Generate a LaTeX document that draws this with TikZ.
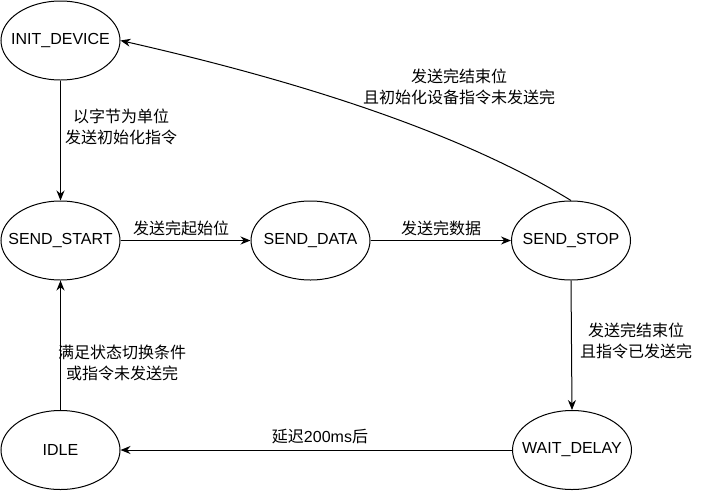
\documentclass[tikz,border=0pt]{standalone}
\usepackage{fontspec}
\setmainfont{Liberation Sans}
\newfontfamily\cjk{Noto Sans CJK SC}
\usetikzlibrary{arrows.meta,shapes.geometric}
\newcommand{\zw}[1]{\makebox[0pt]{#1}}
\begin{document}
\begin{tikzpicture}[x=1pt,y=-1pt,
  state/.style={draw,ellipse,minimum width=119pt,minimum height=79pt,inner sep=0pt,line width=1pt,font=\fontsize{16}{19}\selectfont},
  trans/.style={draw,line width=1pt,-{Stealth[length=10pt,width=8pt]}},
  lbl/.style={align=center,inner sep=0pt,font=\cjk\fontsize{16}{21}\selectfont}]
\useasboundingbox (0,0) rectangle (701,491);
\node[state] (init)  at (60.5,40.5)  {\zw{INIT\_DEVICE}};
\node[state] (start) at (60.5,240.5) {\zw{SEND\_START}};
\node[state] (data)  at (310.5,240.5) {\zw{SEND\_DATA}};
\node[state] (stop)  at (571,240.5) {\zw{SEND\_STOP}};
\node[state] (wait)  at (572,450) {\zw{WAIT\_DELAY}};
\node[state] (idle)  at (60.5,450) {\zw{IDLE}};

\coordinate (c1) at (440,120);
\coordinate (c2) at (250,70);

\draw[trans] (init.south) -- (start.north);
\draw[trans] (start.east) -- (data.west);
\draw[trans] (data.east) -- (stop.west);
\draw[trans] (stop.south) -- (wait.north);
\draw[trans] (wait.west) -- (idle.east);
\draw[trans] (idle.north) -- (start.south);
\draw[trans] (stop.north) .. controls (c1) and (c2) .. (init.east);

\node[lbl] (l1) at (121,127) {以字节为单位\\发送初始化指令};
\node[lbl] (l2) at (181,228) {发送完起始位};
\node[lbl] (l3) at (441,228) {发送完数据};
\node[lbl] (l4) at (459,87) {发送完结束位\\且初始化设备指令未发送完};
\node[lbl] (l5) at (636,341) {发送完结束位\\且指令已发送完};
\node[lbl] (l6) at (122,363) {满足状态切换条件\\或指令未发送完};
\node[lbl] (l7) at (320,437) {延迟{\rmfamily 200ms}后};
\end{tikzpicture}
\end{document}
